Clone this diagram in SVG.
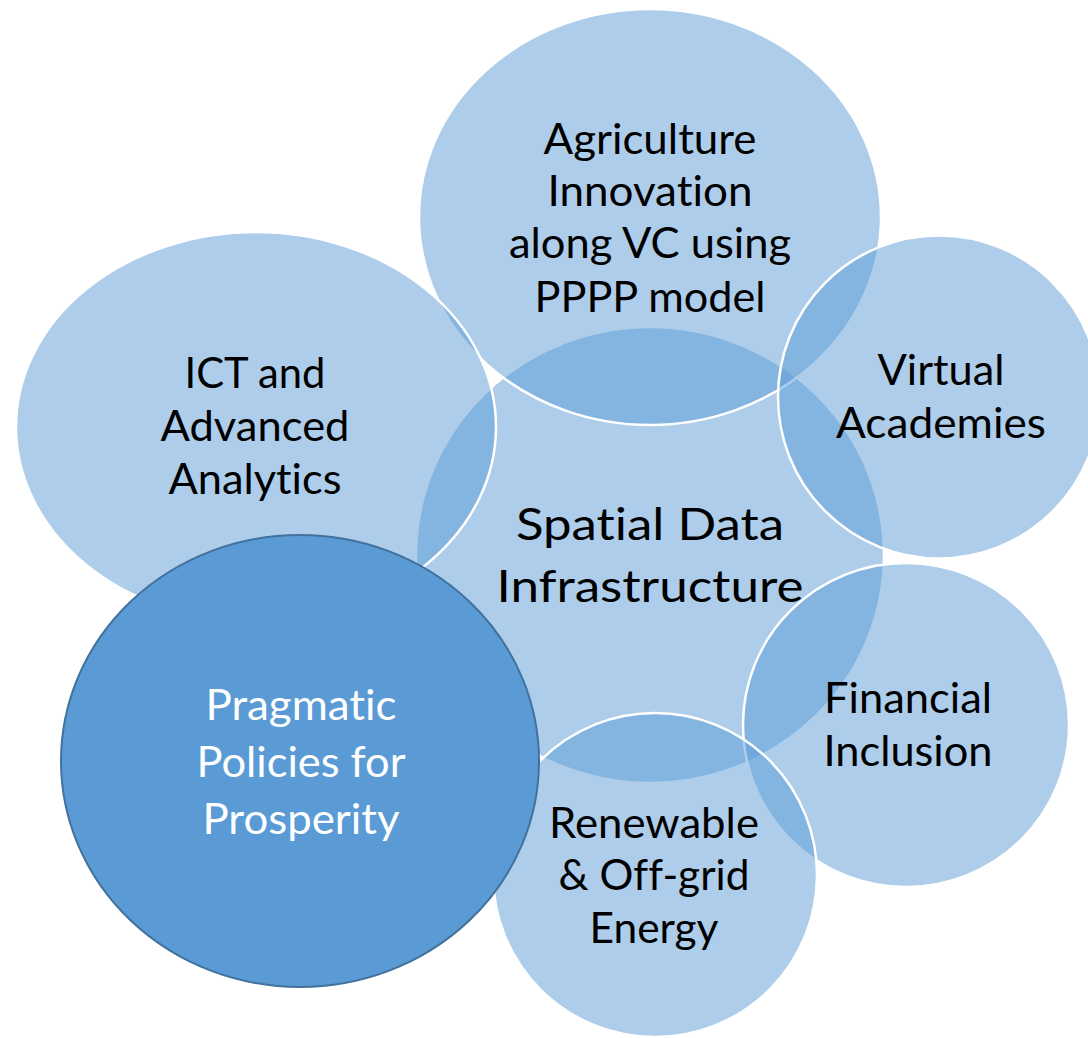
<svg xmlns="http://www.w3.org/2000/svg" width="1088" height="1038" viewBox="0 0 1088 1038">
  <style>
    .c { fill: #5B9BD5; fill-opacity: 0.5; stroke: #FFFFFF; stroke-width: 2.5; }
    .main { fill: #5B9BD5; stroke: #41719C; stroke-width: 2; }
    .t { font-family: Lato, "Noto Sans", "Liberation Sans", sans-serif; font-size: 42px; fill: #000000; text-anchor: middle; font-variant-ligatures: none; font-feature-settings: "liga" 0, "clig" 0, "dlig" 0; }
    .big { font-size: 45px; }
    .w { fill: #FFFFFF; }
  </style>
  <rect x="0" y="0" width="1088" height="1038" fill="#FFFFFF"/>
  <g id="connectors"/>
  <g id="node-spatial">
    <ellipse class="c" cx="650" cy="555" rx="234" ry="228"/>
    <text class="t big" x="650" y="540" textLength="268" lengthAdjust="spacingAndGlyphs">Spatial Data</text>
    <text class="t big" x="650" y="602" textLength="307" lengthAdjust="spacingAndGlyphs">Infrastructure</text>
  </g>
  <g id="node-agriculture">
    <ellipse class="c" cx="650" cy="217" rx="231" ry="208"/>
    <text class="t" x="650" y="154" textLength="213" lengthAdjust="spacingAndGlyphs">Agriculture</text>
    <text class="t" x="650" y="206" textLength="205" lengthAdjust="spacingAndGlyphs">Innovation</text>
    <text class="t" x="650" y="258" textLength="282" lengthAdjust="spacingAndGlyphs">along VC using</text>
    <text class="t" x="650" y="312" textLength="231" lengthAdjust="spacingAndGlyphs">PPPP model</text>
  </g>
  <g id="node-ict">
    <ellipse class="c" cx="256" cy="427" rx="240" ry="195"/>
    <text class="t" x="255" y="388" textLength="141" lengthAdjust="spacingAndGlyphs">ICT and</text>
    <text class="t" x="255" y="441" textLength="189" lengthAdjust="spacingAndGlyphs">Advanced</text>
    <text class="t" x="255" y="494" textLength="173" lengthAdjust="spacingAndGlyphs">Analytics</text>
  </g>
  <g id="node-virtual">
    <ellipse class="c" cx="939" cy="397" rx="161" ry="161.5"/>
    <text class="t" x="941" y="385" textLength="127" lengthAdjust="spacingAndGlyphs">Virtual</text>
    <text class="t" x="941" y="438" textLength="210" lengthAdjust="spacingAndGlyphs">Academies</text>
  </g>
  <g id="node-financial">
    <ellipse class="c" cx="906" cy="725" rx="163" ry="162"/>
    <text class="t" x="908" y="713" textLength="168" lengthAdjust="spacingAndGlyphs">Financial</text>
    <text class="t" x="908" y="766" textLength="169" lengthAdjust="spacingAndGlyphs">Inclusion</text>
  </g>
  <g id="node-renewable">
    <ellipse class="c" cx="655" cy="875" rx="162" ry="162"/>
    <text class="t" x="654" y="838" textLength="210" lengthAdjust="spacingAndGlyphs">Renewable</text>
    <text class="t" x="654" y="890" textLength="191" lengthAdjust="spacingAndGlyphs">&amp; Off-grid</text>
    <text class="t" x="654" y="943" textLength="129" lengthAdjust="spacingAndGlyphs">Energy</text>
  </g>
  <g id="node-pragmatic">
    <ellipse class="main" cx="300" cy="761" rx="239" ry="226"/>
    <text class="t w" x="301" y="720" textLength="191" lengthAdjust="spacingAndGlyphs">Pragmatic</text>
    <text class="t w" x="301" y="777" textLength="209" lengthAdjust="spacingAndGlyphs">Policies for</text>
    <text class="t w" x="301" y="834" textLength="197" lengthAdjust="spacingAndGlyphs">Prosperity</text>
  </g>
</svg>
